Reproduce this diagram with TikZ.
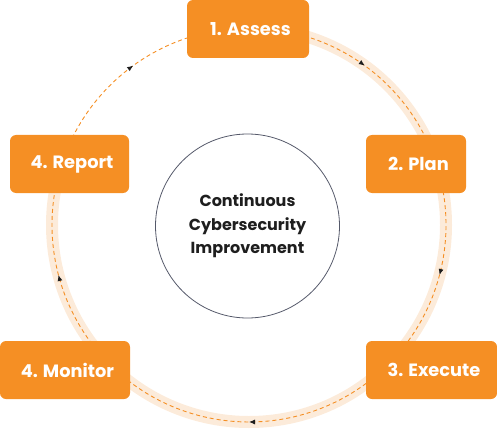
\documentclass[tikz,border=0pt]{standalone}
\usepackage{fontspec}
\setmainfont{Poppins}
\usepackage{tikz}
\usetikzlibrary{positioning}
\usetikzlibrary{calc}
\usetikzlibrary{arrows.meta,decorations.markings}

\definecolor{boxorange}{HTML}{F58F24}
\definecolor{bandpeach}{HTML}{FCEBDA}
\definecolor{inkgrey}{HTML}{1E1E1E}
\definecolor{rimgrey}{HTML}{55596A}

\tikzset{
  stepbox/.style={fill=boxorange, rounded corners=6pt, minimum height=58pt, inner xsep=0pt,
    text=white, font=\fontsize{17.8}{20}\selectfont\bfseries},
  band/.style={bandpeach, line width=12pt},
  flow/.style={boxorange, line width=0.9pt, dash pattern=on 4pt off 3pt, postaction={decorate},
    decoration={markings, mark=at position 0.5 with {\arrow{Latex[length=6pt,width=5pt,color=inkgrey]}}}},
  hub/.style={circle, draw=rimgrey, line width=0.8pt, minimum size=184pt, align=center,
    text=inkgrey, font=\fontsize{16}{23.5}\selectfont\bfseries}
}

\begin{document}
\begin{tikzpicture}[x=1pt, y=1pt]
 \useasboundingbox (0,0) rectangle (497,429);
 \coordinate (ring) at (249,204);

 %points on the ring
 \foreach \name/\a in {assess/90, plan/18, execute/-47.4, monitor/-132.6, report/162} {
         \coordinate (r-\name) at ($(ring)+(\a:197)$);
 }

 %band
 \draw[band] (r-assess) arc[start angle=90, end angle=-198, radius=197];

 %cycle
 \draw[flow] (r-assess) arc[start angle=90, end angle=18, radius=197];
 \draw[flow] (r-plan) arc[start angle=18, end angle=-47.4, radius=197];
 \draw[flow] (r-execute) arc[start angle=-47.4, end angle=-132.6, radius=197];
 \draw[flow] (r-monitor) arc[start angle=-132.6, end angle=-198, radius=197];
 \draw[flow] (r-report) arc[start angle=162, end angle=90, radius=197];

 \node[hub] (hub) at (247.5,203) {Continuous\\Cybersecurity\\Improvement};

 %steps
 \foreach \name/\x/\y/\w/\txt in {assess/248/400/122/1. Assess, plan/416/265/100/2. Plan,
     execute/431.5/59/131/3. Execute, monitor/65/59/130/4. Monitor, report/69.5/265/119/4. Report} {
         \node[stepbox, minimum width=\w pt] (\name) at (\x,\y) {\hspace*{5pt}\txt};
 }
\end{tikzpicture}
\end{document}
